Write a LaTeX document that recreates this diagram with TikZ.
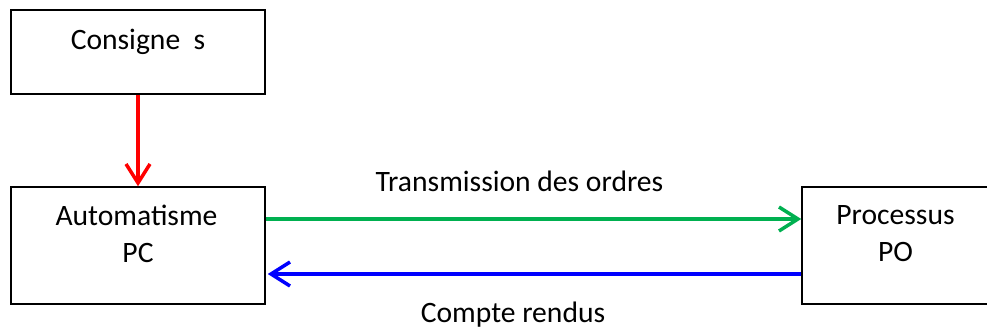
\documentclass[tikz,border=0pt]{standalone}
\usepackage{fontspec}
\setmainfont{Carlito}
\usetikzlibrary{arrows.meta}
\definecolor{vertordre}{RGB}{0,176,80}
\tikzset{
	bloc/.style={draw, line width=1.5pt, inner sep=0pt, minimum width=254pt, minimum height=84pt, align=center, text depth=25pt},
	fleche/.style={line width=3.5pt, -{Straight Barb[length=19pt,width=24pt]}},
}
\begin{document}
	\begin{tikzpicture}[x=1pt,y=-1pt,font=\fontsize{29.6}{37}\selectfont]
		\useasboundingbox (0,0) rectangle (987,329);
		\clip (0,0) rectangle (987,329);
		\node[bloc] (consigne) at (138,52) {Consigne\ \ s};
		\node[bloc, minimum height=117pt, text depth=23pt] (automatisme) at (138,245.5) {\hspace*{-3pt}Automatisme\\PC};
		% le bord droit sort du cadre
		\node[bloc, minimum width=200pt, minimum height=117pt, text depth=23pt] (processus) at (902,245.5) {\hspace*{-13pt}Processus\\\hspace*{-13pt}PO};
		\draw[fleche, red] (consigne) -- (automatisme);
		\draw[fleche, vertordre] ([yshift=26.5pt]automatisme.east) -- ([yshift=26.5pt]processus.west);
		\draw[fleche, blue] ([yshift=-28.5pt]processus.west) -- ([yshift=-28.5pt,xshift=2pt]automatisme.east);
		\node[anchor=base] (ordres) at (519.5,191) {Transmission des ordres};
		\node[anchor=base] (comptes) at (513,322) {Compte rendus};
	\end{tikzpicture}
\end{document}
